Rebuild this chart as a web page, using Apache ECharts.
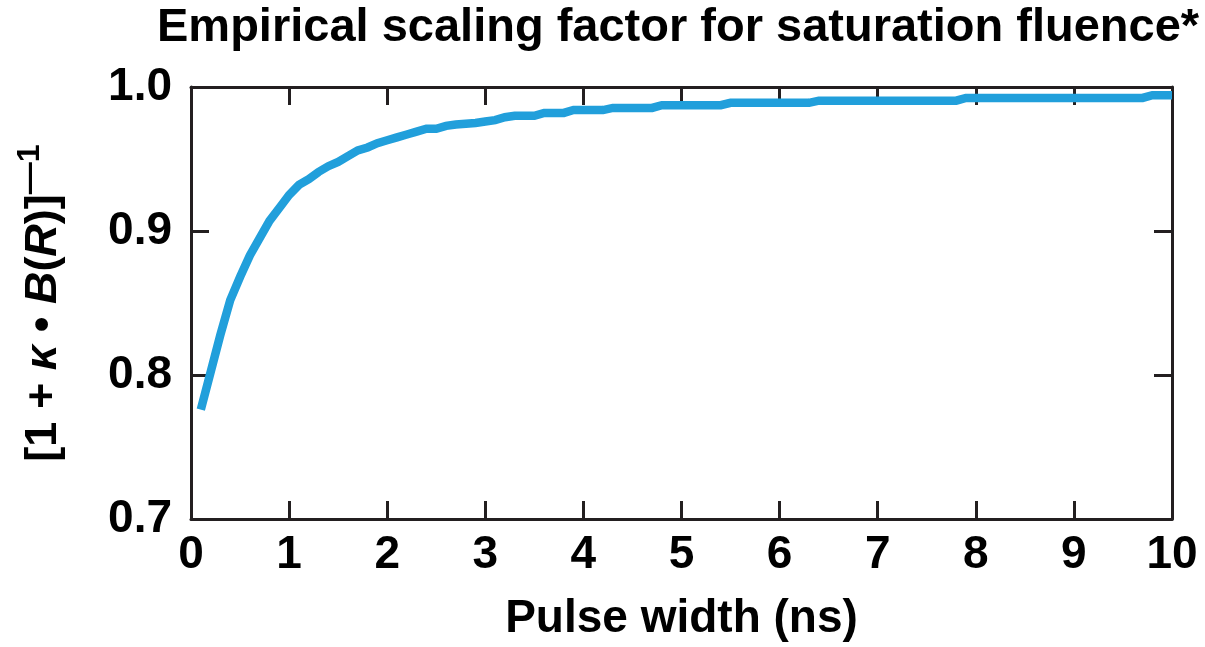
<!DOCTYPE html>
<html>
<head>
<meta charset="utf-8">
<script src="https://cdn.jsdelivr.net/npm/echarts@6/dist/echarts.min.js"></script>
<style>
html,body{margin:0;padding:0;background:#fff;}
#chart{width:1205px;height:647px;}
</style>
</head>
<body>
<div id="chart"></div>
<script>
// Data
const pulseWidthNs = [0.1,0.2,0.3,0.4,0.5,0.6,0.7,0.8,0.9,1.0,1.1,1.2,1.3,1.4,1.5,1.6,1.7,1.8,1.9,2.0,2.1,2.2,2.3,2.4,2.5,2.6,2.7,2.9,3.0,3.1,3.2,3.3,3.5,3.6,3.8,3.9,4.2,4.3,4.7,4.8,5.4,5.5,6.3,6.4,7.8,7.9,9.7,9.8,10.0];
const scalingFactor = [0.776,0.802,0.828,0.852,0.868,0.883,0.895,0.907,0.916,0.925,0.932,0.936,0.941,0.945,0.948,0.952,0.956,0.958,0.961,0.963,0.965,0.967,0.969,0.971,0.971,0.973,0.974,0.975,0.976,0.977,0.979,0.980,0.980,0.982,0.982,0.984,0.984,0.9855,0.9855,0.9874,0.9874,0.989,0.989,0.9905,0.9905,0.9924,0.9924,0.9943,0.9943];
const xTicks = {min: 0, max: 10, interval: 1};
const yTicks = {min: 0.7, max: 1.0, interval: 0.1};
const titleText = 'Empirical scaling factor for saturation fluence*';
const xAxisTitle = 'Pulse width (ns)';

const FONT = '"Liberation Sans", Arial, Helvetica, sans-serif';
const AXIS_COLOR = '#231f20';
const LINE_COLOR = '#219fdb';

const chart = echarts.init(document.getElementById('chart'), null, {renderer: 'canvas'});

const frameLine = {show: true, onZero: false, lineStyle: {color: AXIS_COLOR, width: 3}};
const innerTick = {show: true, inside: true, length: 18, lineStyle: {color: AXIS_COLOR, width: 3}};
const NAME_SIZE = 45;

chart.setOption({
  backgroundColor: '#fff',
  animation: false,
  title: {
    text: titleText,
    left: 152,
    top: 0,
    textStyle: {fontFamily: FONT, fontWeight: 'bold', fontSize: 47, color: '#000'}
  },
  grid: {left: 191, right: 33, top: 87, bottom: 125, containLabel: false},
  xAxis: [{
    type: 'value',
    min: xTicks.min, max: xTicks.max, interval: xTicks.interval,
    position: 'bottom',
    axisLine: frameLine,
    axisTick: innerTick,
    splitLine: {show: false},
    axisLabel: {fontFamily: FONT, fontWeight: 'bold', fontSize: 46, color: '#000', margin: 13},
    name: xAxisTitle,
    nameLocation: 'middle',
    nameGap: 77,
    nameTextStyle: {fontFamily: FONT, fontWeight: 'bold', fontSize: 46, color: '#000'}
  }, {
    type: 'value',
    min: xTicks.min, max: xTicks.max, interval: xTicks.interval,
    position: 'top',
    axisLine: frameLine,
    axisTick: innerTick,
    splitLine: {show: false},
    axisLabel: {show: false}
  }],
  yAxis: [{
    type: 'value',
    min: yTicks.min, max: yTicks.max, interval: yTicks.interval,
    position: 'left',
    axisLine: frameLine,
    axisTick: innerTick,
    splitLine: {show: false},
    axisLabel: {
      fontFamily: FONT, fontWeight: 'bold', fontSize: 46, color: '#000', margin: 19,
      formatter: v => v.toFixed(1)
    },
    name: '{n|[1 + }{k|κ}{n| • }{b|B}{n|(}{r|R}{n|)]}{s|—1}',
    nameLocation: 'middle',
    nameRotate: 90,
    nameGap: 125,
    nameTextStyle: {
      fontFamily: FONT, fontWeight: 'bold', fontSize: NAME_SIZE, color: '#000',
      rich: {
        n: {fontFamily: FONT, fontWeight: 'bold', fontSize: NAME_SIZE, color: '#000', verticalAlign: 'bottom'},
        k: {fontFamily: FONT, fontWeight: 'bold', fontStyle: 'italic', fontSize: NAME_SIZE, color: '#000', verticalAlign: 'bottom'},
        b: {fontFamily: FONT, fontWeight: 'bold', fontStyle: 'italic', fontSize: NAME_SIZE, color: '#000', verticalAlign: 'bottom'},
        r: {fontFamily: FONT, fontWeight: 'bold', fontStyle: 'italic', fontSize: NAME_SIZE, color: '#000', verticalAlign: 'bottom'},
        s: {fontFamily: FONT, fontWeight: 'bold', fontSize: 32, color: '#000', verticalAlign: 'bottom', padding: [0, 0, 20, 0]}
      }
    }
  }, {
    type: 'value',
    min: yTicks.min, max: yTicks.max, interval: yTicks.interval,
    position: 'right',
    axisLine: frameLine,
    axisTick: innerTick,
    splitLine: {show: false},
    axisLabel: {show: false}
  }],
  series: [{
    type: 'line',
    data: pulseWidthNs.map((x, i) => [x, scalingFactor[i]]),
    showSymbol: false,
    symbol: 'none',
    lineStyle: {color: LINE_COLOR, width: 8.5, join: 'miter'},
    xAxisIndex: 0,
    yAxisIndex: 0,
    z: 1
  }]
});
</script>
</body>
</html>
